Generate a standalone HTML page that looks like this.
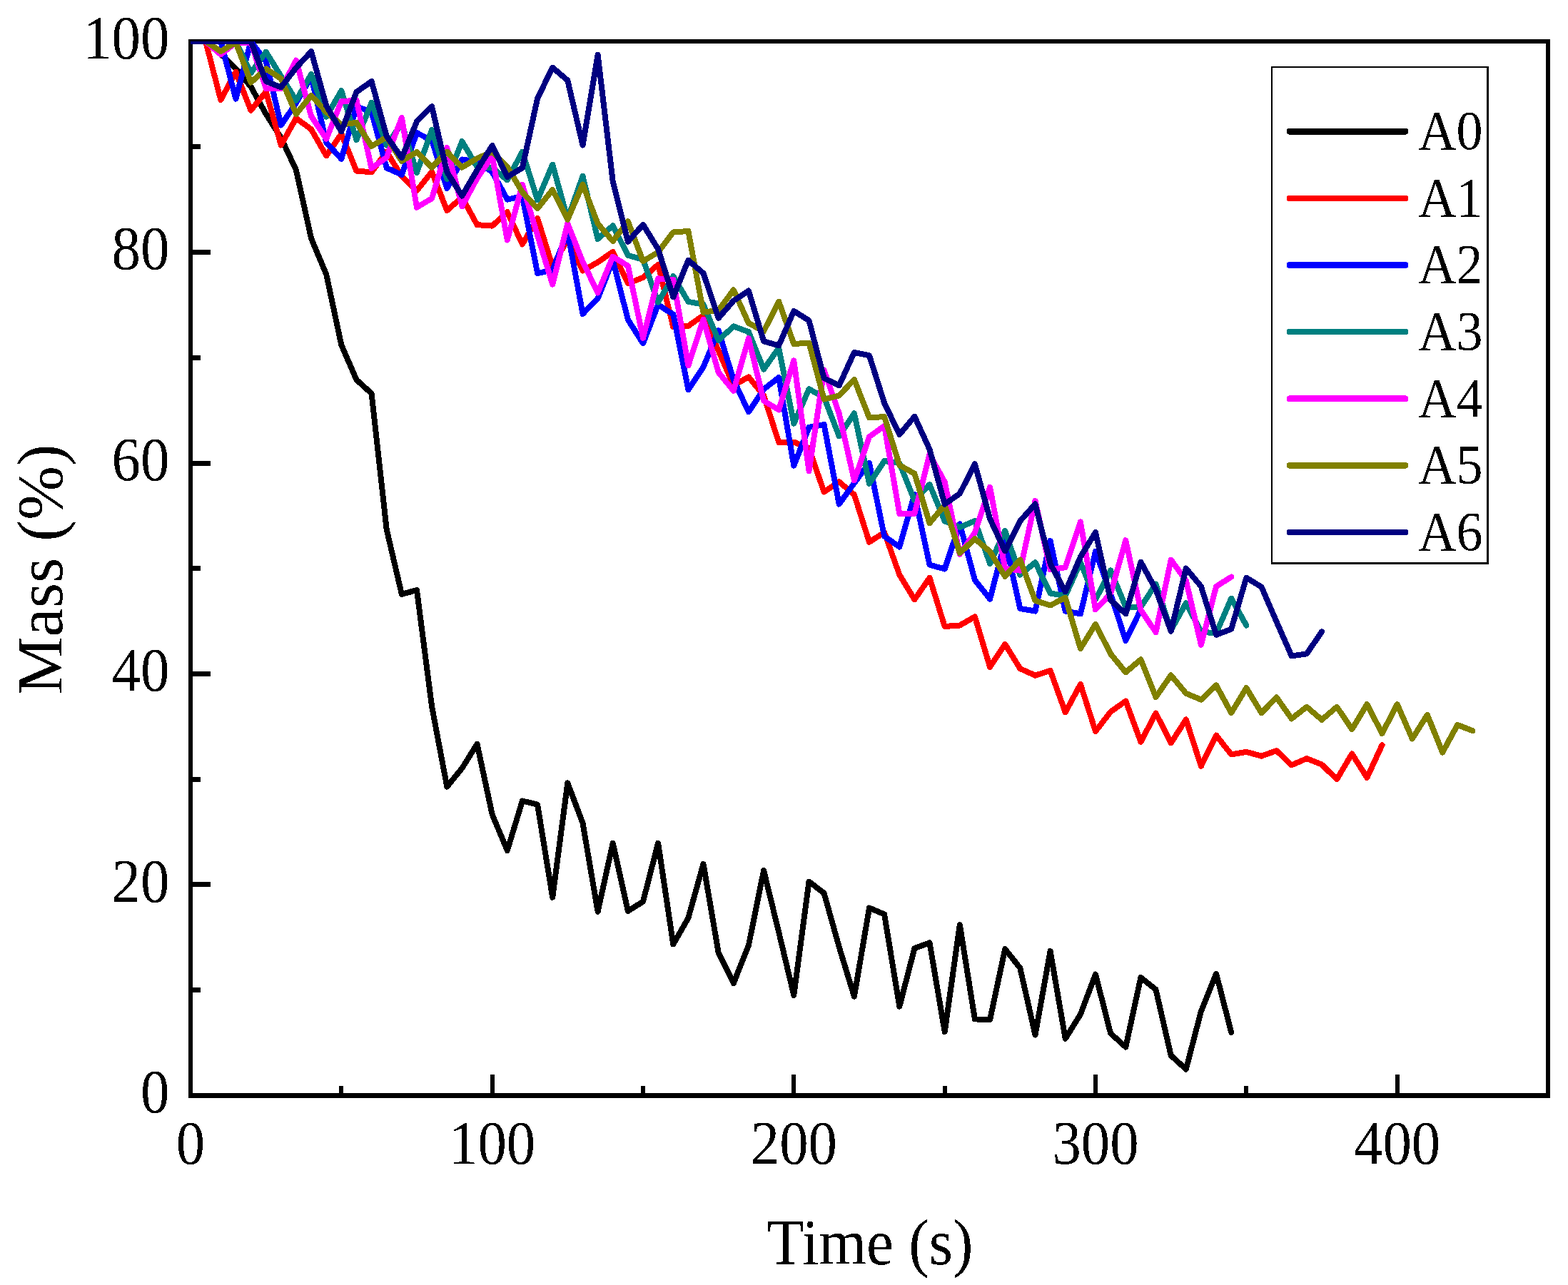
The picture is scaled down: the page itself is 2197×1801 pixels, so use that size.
<!DOCTYPE html>
<html lang="en"><head><meta charset="utf-8"><title>Mass (%) vs Time (s)</title>
<style>html,body{margin:0;padding:0;background:#fff}body{width:2197px;height:1801px;overflow:hidden}svg{display:block}text{font-family:"Liberation Serif","DejaVu Serif",serif;fill:#000}</style></head><body>
<svg xmlns="http://www.w3.org/2000/svg" width="2197" height="1801" viewBox="0 0 2197 1801">
<rect x="0" y="0" width="2197" height="1801" fill="#fff"/>
<defs><filter id="bw" x="-5%" y="-5%" width="110%" height="110%" color-interpolation-filters="sRGB"><feComponentTransfer><feFuncA type="discrete" tableValues="0 1"/></feComponentTransfer></filter><clipPath id="plot"><rect x="267.00" y="58.00" width="1902.00" height="1477.50"/></clipPath></defs>
<g fill="#000" shape-rendering="crispEdges">
<rect x="264" y="55" width="1908" height="6"/>
<rect x="264" y="1532" width="1908" height="7"/>
<rect x="264" y="55" width="6" height="1484"/>
<rect x="2166" y="55" width="6" height="1484"/>
<rect x="475" y="1521.5" width="6" height="14.0"/>
<rect x="687" y="1506.0" width="6" height="29.5"/>
<rect x="898" y="1521.5" width="6" height="14.0"/>
<rect x="1109" y="1506.0" width="6" height="29.5"/>
<rect x="1321" y="1521.5" width="6" height="14.0"/>
<rect x="1532" y="1506.0" width="6" height="29.5"/>
<rect x="1743" y="1521.5" width="6" height="14.0"/>
<rect x="1955" y="1506.0" width="6" height="29.5"/>
<rect x="267" y="1384" width="14.0" height="7"/>
<rect x="267" y="1236" width="28.0" height="7"/>
<rect x="267" y="1089" width="14.0" height="7"/>
<rect x="267" y="941" width="28.0" height="7"/>
<rect x="267" y="793" width="14.0" height="7"/>
<rect x="267" y="646" width="28.0" height="7"/>
<rect x="267" y="498" width="14.0" height="7"/>
<rect x="267" y="350" width="28.0" height="7"/>
<rect x="267" y="202" width="14.0" height="7"/>
</g>
<g font-size="86" filter="url(#bw)">
<text text-anchor="end" transform="translate(237.40 1559.30) scale(0.94 1)">0</text>
<text text-anchor="end" transform="translate(237.40 1263.80) scale(0.94 1)">20</text>
<text text-anchor="end" transform="translate(237.40 968.30) scale(0.94 1)">40</text>
<text text-anchor="end" transform="translate(237.40 672.80) scale(0.94 1)">60</text>
<text text-anchor="end" transform="translate(237.40 377.30) scale(0.94 1)">80</text>
<text text-anchor="end" transform="translate(237.40 81.80) scale(0.94 1)">100</text>
<text text-anchor="middle" transform="translate(267.00 1631.20) scale(0.94 1)">0</text>
<text text-anchor="middle" transform="translate(689.67 1631.20) scale(0.94 1)">100</text>
<text text-anchor="middle" transform="translate(1112.33 1631.20) scale(0.94 1)">200</text>
<text text-anchor="middle" transform="translate(1535.00 1631.20) scale(0.94 1)">300</text>
<text text-anchor="middle" transform="translate(1957.67 1631.20) scale(0.94 1)">400</text>
</g>
<text filter="url(#bw)" font-size="92" text-anchor="middle" transform="translate(1219.00 1771.70) scale(0.93 1)">Time (s)</text>
<g filter="url(#bw)"><text font-size="92" text-anchor="middle" transform="translate(86.50 798.00) rotate(-90) scale(0.987 1)">Mass (%)</text></g>
<g clip-path="url(#plot)" fill="none" stroke-width="8.00" stroke-linejoin="round" stroke-linecap="round" shape-rendering="crispEdges">
<polyline stroke="#000000" points="267.0,58.0 288.1,58.0 309.3,75.7 330.4,96.4 351.5,121.5 372.7,159.9 393.8,193.2 414.9,238.3 436.1,334.3 457.2,384.5 478.3,483.5 499.5,532.3 520.6,551.5 541.7,742.1 562.9,832.9 584.0,827.0 605.1,990.3 626.3,1102.6 647.4,1076.7 668.5,1042.8 689.7,1141.7 710.8,1192.0 731.9,1122.5 753.1,1127.7 774.2,1257.7 795.3,1097.4 816.5,1153.6 837.6,1277.7 858.7,1181.6 879.9,1276.9 901.0,1263.6 922.1,1181.6 943.3,1323.5 964.4,1286.5 985.5,1210.9 1006.7,1335.3 1027.8,1378.1 1048.9,1325.0 1070.1,1220.1 1091.2,1306.5 1112.3,1394.8 1133.5,1235.6 1154.6,1251.8 1175.7,1327.2 1196.9,1396.6 1218.0,1272.5 1239.1,1281.4 1260.3,1410.7 1281.4,1329.1 1302.5,1321.3 1323.7,1446.1 1344.8,1296.1 1365.9,1428.4 1387.1,1429.1 1408.2,1330.1 1429.3,1356.7 1450.5,1450.5 1471.6,1333.1 1492.7,1455.7 1513.9,1421.7 1535.0,1365.6 1556.1,1448.3 1577.3,1467.5 1598.4,1370.0 1619.5,1387.0 1640.7,1479.4 1661.8,1498.6 1682.9,1417.3 1704.1,1364.8 1725.2,1446.8"/>
<polyline stroke="#ff0000" points="267.0,58.0 288.1,58.0 309.3,140.0 330.4,100.8 351.5,154.8 372.7,128.6 393.8,203.5 414.9,165.6 436.1,181.4 457.2,218.3 478.3,187.7 499.5,239.7 520.6,241.2 541.7,212.8 562.9,247.1 584.0,267.1 605.1,240.9 626.3,295.1 647.4,276.4 668.5,315.1 689.7,316.6 710.8,297.1 731.9,342.4 753.1,305.9 774.2,373.4 795.3,335.5 816.5,379.4 837.6,367.5 858.7,352.9 879.9,397.1 901.0,389.0 922.1,370.9 943.3,458.4 964.4,456.9 985.5,441.9 1006.7,491.6 1027.8,540.4 1048.9,528.3 1070.1,554.4 1091.2,620.0 1112.3,619.5 1133.5,628.3 1154.6,689.6 1175.7,675.3 1196.9,693.3 1218.0,759.8 1239.1,746.2 1260.3,805.6 1281.4,840.3 1302.5,809.8 1323.7,878.0 1344.8,876.5 1365.9,864.4 1387.1,934.9 1408.2,902.8 1429.3,937.1 1450.5,946.7 1471.6,939.8 1492.7,998.4 1513.9,959.0 1535.0,1025.0 1556.1,997.7 1577.3,982.6 1598.4,1039.8 1619.5,999.6 1640.7,1041.3 1661.8,1008.5 1682.9,1073.8 1704.1,1030.6 1725.2,1057.5 1746.3,1053.8 1767.5,1059.7 1788.6,1052.1 1809.7,1072.3 1830.9,1063.1 1852.0,1071.6 1873.1,1092.2 1894.3,1056.5 1915.4,1090.0 1936.5,1044.2"/>
<polyline stroke="#0000ff" points="267.0,58.0 288.1,58.0 309.3,58.0 330.4,138.5 351.5,58.0 372.7,86.1 393.8,175.5 414.9,144.4 436.1,107.5 457.2,199.8 478.3,222.7 499.5,149.3 520.6,157.0 541.7,235.3 562.9,244.9 584.0,186.2 605.1,196.9 626.3,264.1 647.4,223.5 668.5,226.4 689.7,241.2 710.8,279.6 731.9,275.2 753.1,383.0 774.2,378.6 795.3,325.1 816.5,439.9 837.6,418.5 858.7,365.0 879.9,448.1 901.0,481.3 922.1,427.1 943.3,440.7 964.4,546.3 985.5,514.5 1006.7,463.3 1027.8,532.3 1048.9,577.3 1070.1,545.6 1091.2,529.0 1112.3,652.7 1133.5,598.8 1154.6,595.1 1175.7,706.6 1196.9,677.1 1218.0,648.7 1239.1,751.7 1260.3,766.5 1281.4,693.0 1302.5,791.6 1323.7,797.5 1344.8,734.4 1365.9,813.0 1387.1,839.6 1408.2,758.0 1429.3,852.9 1450.5,856.6 1471.6,758.0 1492.7,856.6 1513.9,860.3 1535.0,772.8 1556.1,832.2 1577.3,898.0 1598.4,854.4"/>
<polyline stroke="#008080" points="267.0,58.0 288.1,58.0 309.3,58.0 330.4,58.0 351.5,102.3 372.7,72.8 393.8,106.8 414.9,140.7 436.1,104.1 457.2,163.6 478.3,127.1 499.5,196.1 520.6,143.7 541.7,203.5 562.9,173.2 584.0,241.9 605.1,181.8 626.3,250.8 647.4,198.1 668.5,233.8 689.7,235.3 710.8,252.3 731.9,212.8 753.1,280.4 774.2,230.6 795.3,307.0 816.5,246.8 837.6,335.0 858.7,316.3 879.9,357.9 901.0,363.8 922.1,423.7 943.3,387.2 964.4,422.9 985.5,426.6 1006.7,476.9 1027.8,457.4 1048.9,465.1 1070.1,517.5 1091.2,487.7 1112.3,593.6 1133.5,545.3 1154.6,556.7 1175.7,611.3 1196.9,579.3 1218.0,677.8 1239.1,646.0 1260.3,649.0 1281.4,701.5 1302.5,679.0 1323.7,730.3 1344.8,739.1 1365.9,730.0 1387.1,790.1 1408.2,744.0 1429.3,805.6 1450.5,788.3 1471.6,831.5 1492.7,835.2 1513.9,788.3 1535.0,840.3 1556.1,799.4 1577.3,850.7 1598.4,850.7 1619.5,818.6 1640.7,883.2 1661.8,845.2 1682.9,885.4 1704.1,887.6 1725.2,838.6 1746.3,876.5"/>
<polyline stroke="#ff00ff" points="267.0,58.0 288.1,58.0 309.3,76.5 330.4,59.5 351.5,59.5 372.7,124.2 393.8,124.5 414.9,84.6 436.1,162.9 457.2,194.7 478.3,142.2 499.5,140.7 520.6,236.0 541.7,220.5 562.9,165.1 584.0,290.7 605.1,278.1 626.3,207.2 647.4,289.2 668.5,250.1 689.7,218.8 710.8,336.5 731.9,258.9 753.1,329.9 774.2,398.6 795.3,313.6 816.5,366.8 837.6,410.4 858.7,359.7 879.9,372.7 901.0,473.9 922.1,390.4 943.3,391.9 964.4,512.3 985.5,447.8 1006.7,521.9 1027.8,547.8 1048.9,474.4 1070.1,561.8 1091.2,574.4 1112.3,505.4 1133.5,660.1 1154.6,518.7 1175.7,579.6 1196.9,673.4 1218.0,612.1 1239.1,597.0 1260.3,719.9 1281.4,719.9 1302.5,636.9 1323.7,675.6 1344.8,776.8 1365.9,746.5 1387.1,682.7 1408.2,796.8 1429.3,799.7 1450.5,701.9 1471.6,798.2 1492.7,795.3 1513.9,731.4 1535.0,854.4 1556.1,832.2 1577.3,757.3 1598.4,855.1 1619.5,886.1 1640.7,784.6 1661.8,813.7 1682.9,903.9 1704.1,821.9 1725.2,808.6"/>
<polyline stroke="#808000" points="267.0,58.0 288.1,58.0 309.3,72.0 330.4,59.5 351.5,115.6 372.7,96.4 393.8,110.3 414.9,159.9 436.1,133.8 457.2,157.0 478.3,174.7 499.5,171.8 520.6,205.0 541.7,192.2 562.9,225.7 584.0,213.1 605.1,234.6 626.3,212.8 647.4,234.6 668.5,222.0 689.7,212.8 710.8,233.8 731.9,269.3 753.1,292.2 774.2,266.0 795.3,307.7 816.5,258.6 837.6,313.6 858.7,338.0 879.9,310.4 901.0,366.1 922.1,353.5 943.3,325.4 964.4,324.0 985.5,437.7 1006.7,434.8 1027.8,406.4 1048.9,452.9 1070.1,464.3 1091.2,422.6 1112.3,482.0 1133.5,480.6 1154.6,559.6 1175.7,554.4 1196.9,532.0 1218.0,585.5 1239.1,584.0 1260.3,652.0 1281.4,663.8 1302.5,733.2 1323.7,707.8 1344.8,775.3 1365.9,755.1 1387.1,773.1 1408.2,807.8 1429.3,784.6 1450.5,841.8 1471.6,848.5 1492.7,837.8 1513.9,909.0 1535.0,874.8 1556.1,916.4 1577.3,942.3 1598.4,924.3 1619.5,977.0 1640.7,946.4 1661.8,971.8 1682.9,980.7 1704.1,960.5 1725.2,999.2 1746.3,964.2 1767.5,999.2 1788.6,977.4 1809.7,1007.3 1830.9,990.7 1852.0,1008.8 1873.1,990.7 1894.3,1022.1 1915.4,987.1 1936.5,1028.0 1957.7,987.1 1978.8,1035.4 1999.9,1001.8 2021.1,1054.6 2042.2,1015.9 2063.3,1024.3"/>
<polyline stroke="#000080" points="267.0,58.0 288.1,58.0 309.3,58.0 330.4,58.0 351.5,58.0 372.7,114.1 393.8,122.3 414.9,94.9 436.1,72.2 457.2,148.1 478.3,184.3 499.5,128.9 520.6,114.1 541.7,191.0 562.9,221.3 584.0,170.3 605.1,149.3 626.3,241.2 647.4,274.5 668.5,238.3 689.7,204.0 710.8,247.9 731.9,235.3 753.1,137.8 774.2,94.6 795.3,112.7 816.5,203.5 837.6,76.9 858.7,254.5 879.9,338.7 901.0,314.8 922.1,349.1 943.3,416.3 964.4,364.7 985.5,383.0 1006.7,445.8 1027.8,421.5 1048.9,407.6 1070.1,478.3 1091.2,484.3 1112.3,435.9 1133.5,449.2 1154.6,530.1 1175.7,540.4 1196.9,493.9 1218.0,498.3 1239.1,564.8 1260.3,609.1 1281.4,583.7 1302.5,629.8 1323.7,706.6 1344.8,691.8 1365.9,650.2 1387.1,727.3 1408.2,772.4 1429.3,730.3 1450.5,706.3 1471.6,790.1 1492.7,829.3 1513.9,780.5 1535.0,746.2 1556.1,841.1 1577.3,860.3 1598.4,787.6 1619.5,826.3 1640.7,884.7 1661.8,796.5 1682.9,821.9 1704.1,889.8 1725.2,881.7 1746.3,809.8 1767.5,822.6 1788.6,871.4 1809.7,919.4 1830.9,916.4 1852.0,885.4"/>
</g>
<rect x="1781" y="93" width="305" height="698" fill="#fff"/>
<g fill="#000" shape-rendering="crispEdges">
<rect x="1781" y="93" width="305" height="2"/>
<rect x="1781" y="788" width="305" height="3"/>
<rect x="1781" y="93" width="2" height="698"/>
<rect x="2083" y="93" width="3" height="698"/>
</g>
<g font-size="78" filter="url(#bw)">
<rect x="1803" y="180.00" width="170" height="8.4" rx="3" ry="3" fill="#000000"/>
<text transform="translate(1987.00 209.20) scale(0.95 1)">A0</text>
<rect x="1803" y="273.63" width="170" height="8.4" rx="3" ry="3" fill="#ff0000"/>
<text transform="translate(1987.00 302.83) scale(0.95 1)">A1</text>
<rect x="1803" y="367.27" width="170" height="8.4" rx="3" ry="3" fill="#0000ff"/>
<text transform="translate(1987.00 396.47) scale(0.95 1)">A2</text>
<rect x="1803" y="460.90" width="170" height="8.4" rx="3" ry="3" fill="#008080"/>
<text transform="translate(1987.00 490.10) scale(0.95 1)">A3</text>
<rect x="1803" y="554.53" width="170" height="8.4" rx="3" ry="3" fill="#ff00ff"/>
<text transform="translate(1987.00 583.73) scale(0.95 1)">A4</text>
<rect x="1803" y="648.17" width="170" height="8.4" rx="3" ry="3" fill="#808000"/>
<text transform="translate(1987.00 677.37) scale(0.95 1)">A5</text>
<rect x="1803" y="741.80" width="170" height="8.4" rx="3" ry="3" fill="#000080"/>
<text transform="translate(1987.00 771.00) scale(0.95 1)">A6</text>
</g>
</svg></body></html>
